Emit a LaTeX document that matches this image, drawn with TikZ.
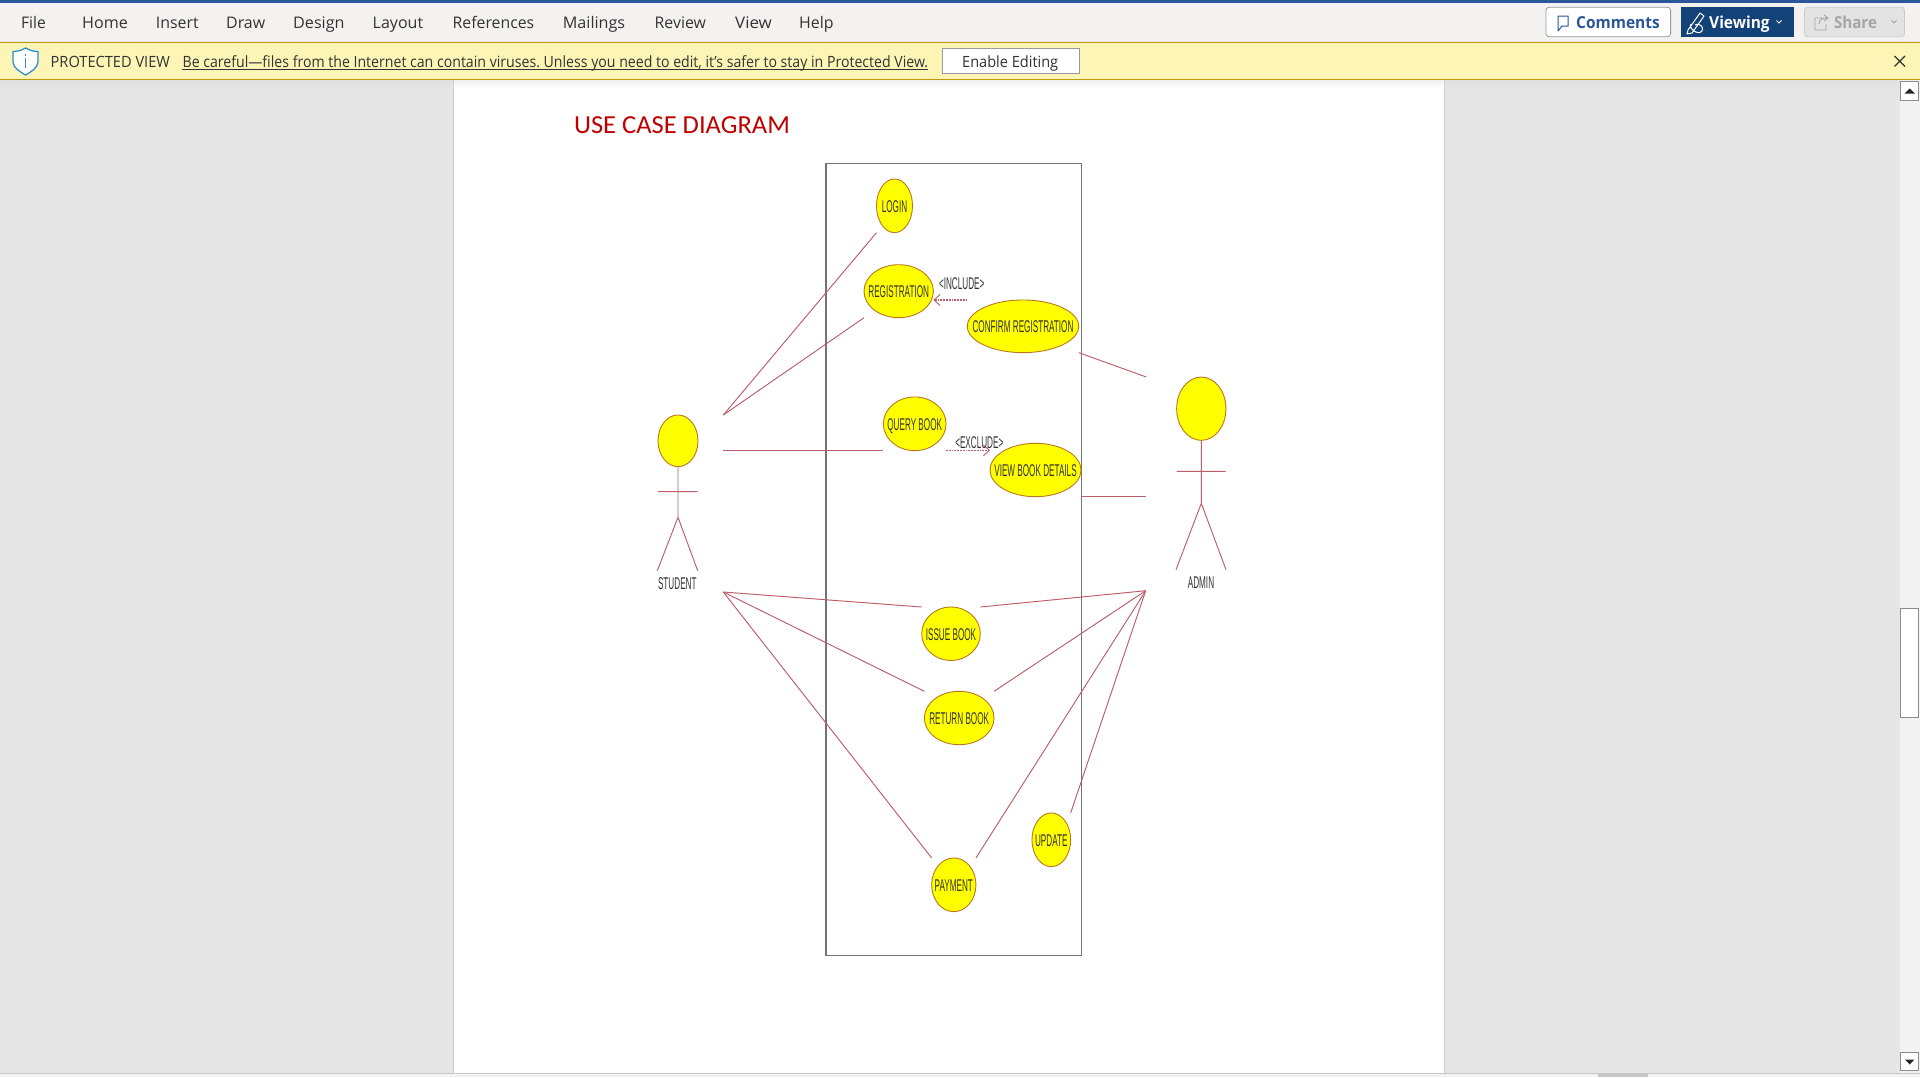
\documentclass[tikz,border=0pt]{standalone}
\usepackage{fontspec}
\usepackage{graphicx}
\setmainfont{Open Sans}
\newfontfamily\arfont{Liberation Sans}
\newfontfamily\calfont{Carlito}
\usetikzlibrary{shapes.geometric,arrows.meta}
\definecolor{ribbon}{HTML}{F3F2F1}
\definecolor{wordblue}{HTML}{2B579A}
\definecolor{viewblue}{HTML}{134279}
\definecolor{warnbg}{HTML}{FCF5B5}
\definecolor{warnline}{HTML}{BE9A0A}
\definecolor{canvasgrey}{HTML}{E6E6E6}
\definecolor{linkred}{HTML}{BC5F6A}
\definecolor{ovalline}{HTML}{B9781E}
\definecolor{inktext}{HTML}{333333}
\definecolor{caseyellow}{HTML}{FFFF00}
\definecolor{titlered}{HTML}{C00000}
\definecolor{shieldblue}{HTML}{2E8FD8}
\definecolor{edgegrey}{HTML}{C8C6C4}
\newcommand{\fit}[2]{\resizebox{#1pt}{\height}{#2}}
\newcommand{\inel}[1]{\makebox[0pt]{\smash{\raisebox{-6.5pt}{\fontsize{17}{17}\arfont\scalebox{.48}[1]{#1}}}}}
\newcommand{\plain}[1]{{\fontsize{17}{17}\arfont\scalebox{.48}[1]{#1}}}
\frenchspacing
\tikzset{
  menu/.style={anchor=base west,inner sep=0pt,text=inktext,font=\fontsize{16}{16}\selectfont},
  usecase/.style={draw=ovalline,fill=caseyellow,line width=.9pt,ellipse,inner sep=0pt,outer sep=0pt,text=inktext},
  link/.style={draw=linkred,line width=.95pt},
  dep/.style={draw=linkred,line width=1.4pt,dash pattern=on 1.8pt off 1pt,-{Straight Barb[length=6pt,width=11pt,line width=.9pt]}},
  caption/.style={inner sep=0pt,text=inktext},
  btn/.style={inner sep=0pt,rounded corners=3pt},
  sbar/.style={fill=white,draw=black!45,line width=1pt},
}
\begin{document}
\begin{tikzpicture}[x=1pt,y=-1pt]
\useasboundingbox (0,0) rectangle (1920,1077);
% window
\fill[canvasgrey] (0,0) rectangle (1920,1077);
\fill[white] (453.5,79) rectangle (1444.5,1073);
\draw[color=black!20,line width=.8pt] (453.5,79) -- (453.5,1073) (1444.5,79) -- (1444.5,1073);
\shade[top color=black!13,bottom color=canvasgrey] (0,79) rectangle (453,88);
\shade[top color=black!13,bottom color=canvasgrey] (1445,79) rectangle (1900,88);
\shade[top color=black!7,bottom color=white] (454,79) rectangle (1444,88);
\fill[ribbon] (0,0) rectangle (1920,41);
\fill[wordblue] (0,0) rectangle (1920,3);
\fill[warnbg] (0,42) rectangle (1920,79.5);
\draw[warnline,line width=1pt] (0,42.5) -- (1920,42.5) (0,79.5) -- (1920,79.5);
% menu
\node[menu] (mFile) at (21,28.3) {\fit{24.6}{File}};
\node[menu] (mHome) at (82,28.3) {\fit{45.7}{Home}};
\node[menu] (mInsert) at (155.7,28.3) {\fit{42.8}{Insert}};
\node[menu] (mDraw) at (226,28.3) {\fit{39}{Draw}};
\node[menu] (mDesign) at (293,28.3) {\fit{51.4}{Design}};
\node[menu] (mLayout) at (372.5,28.3) {\fit{50.5}{Layout}};
\node[menu] (mRefs) at (452.5,28.3) {\fit{81.5}{References}};
\node[menu] (mMail) at (562.6,28.3) {\fit{62.4}{Mailings}};
\node[menu] (mReview) at (654.5,28.3) {\fit{51.2}{Review}};
\node[menu] (mView) at (735,28.3) {\fit{36.7}{View}};
\node[menu] (mHelp) at (799,28.3) {\fit{34.4}{Help}};
% right buttons
\node[btn,draw=black!40,fill=white,line width=.8pt,minimum width=124.6pt,minimum height=29.4pt] (bComments) at (1608.3,22) {};
\node[menu,text=wordblue,font=\fontsize{16.5}{16.5}\selectfont\bfseries] (tComments) at (1576,28) {\fit{83.6}{Comments}};
\draw[wordblue,line width=1pt,line join=round] (1558,16) -- (1568,16) -- (1568,26) -- (1562,26) -- (1558,31) -- (1558,16);
\node[fill=viewblue,inner sep=0pt,minimum width=113pt,minimum height=29.4pt] (bViewing) at (1737.5,22) {};
\node[menu,text=white,font=\fontsize{16.5}{16.5}\selectfont\bfseries] (tViewing) at (1709,28) {\fit{60.5}{Viewing}};
\draw[white,line width=1pt,line join=round] (1688,30) -- (1700,13) -- (1704,16) -- (1692,33) -- (1687,34) -- cycle (1691,24) .. controls (1688,28) and (1698,36) .. (1702,31) .. controls (1705,27) and (1698,22) .. (1695,25);
\draw[white,line width=1pt] (1776.5,20.5) -- (1779,23) -- (1781.5,20.5);
\node[btn,draw=black!20,fill=black!11,line width=.8pt,minimum width=100pt,minimum height=29.4pt] (bShare) at (1854.5,22) {};
\node[menu,text=black!35,font=\fontsize{16.5}{16.5}\selectfont\bfseries] (tShare) at (1833.8,28) {\fit{43}{Share}};
\draw[black!35,line width=.9pt] (1822,18) -- (1815,18) -- (1815,30) -- (1826,30) -- (1826,24) (1819,24) .. controls (1819,19) and (1823,18) .. (1827,18) (1824,15) -- (1828,18) -- (1824,21);
\draw[black!35,line width=.9pt] (1891.5,20.5) -- (1894,23) -- (1896.5,20.5);
% warning bar
\fill[white] (25.6,49) .. controls (21,51.5) and (17,52.5) .. (13.5,52.5) -- (13.5,62) .. controls (13.5,67) and (20,72) .. (25.6,74.5) .. controls (31,72) and (37.5,67) .. (37.5,62) -- (37.5,52.5) .. controls (34,52.5) and (30,51.5) .. (25.6,49) -- cycle;
\draw[shieldblue,line width=1.3pt] (25.6,48) .. controls (21,50.5) and (17,51.5) .. (13,51.5) -- (13,62) .. controls (13,67.5) and (20,72) .. (25.6,75) .. controls (31,72) and (38,67.5) .. (38,62) -- (38,51.5) .. controls (34,51.5) and (30,50.5) .. (25.6,48) -- cycle;
\draw[shieldblue,line width=1.6pt] (25.6,58) -- (25.6,68) (25.6,53.5) -- (25.6,55.5);
\node[menu,font=\fontsize{15.5}{15.5}\selectfont] (pvTag) at (50.5,67) {\fit{119.3}{PROTECTED VIEW}};
\node[menu,font=\fontsize{15.5}{15.5}\selectfont] (pvMsg) at (182.4,67) {\fit{745.6}{Be careful—files from the Internet can contain viruses. Unless you need to edit, it's safer to stay in Protected View.}};
\draw[inktext,line width=.9pt] (182.4,69.2) -- (928,69.2);
\node[draw=black!40,fill=white,line width=.8pt,minimum width=137.6pt,minimum height=25.4pt,inner sep=0pt] (bEnable) at (1010.8,61) {};
\node[menu,font=\fontsize{15.5}{15.5}\selectfont] (tEnable) at (962,67) {\fit{96}{Enable Editing}};
\draw[inktext,line width=1.1pt] (1894.5,56) -- (1905,66.5) (1905,56) -- (1894.5,66.5);
% scrollbar
\fill[black!5] (1900,80) rectangle (1920,1073);
\path[sbar] (1900.8,81.4) rectangle (1918.6,100.4);
\fill[black!85] (1904.5,93.5) -- (1909.7,88.5) -- (1914.9,93.5) -- cycle;
\path[sbar] (1900.8,608.2) rectangle (1918.6,717.6);
\path[sbar] (1900.8,1052.6) rectangle (1918.6,1070.7);
\fill[black!85] (1905,1059.5) -- (1909.7,1064.5) -- (1914.4,1059.5) -- cycle;
% status edge
\fill[ribbon] (0,1073.5) rectangle (1920,1077);
\fill[edgegrey] (0,1073) rectangle (1920,1074);
\fill[edgegrey] (1598,1074) rectangle (1648,1077);
% title
\node[menu,text=titlered,font=\fontsize{26}{26}\calfont] (title) at (573.8,133.3) {\fit{216}{USE CASE DIAGRAM}};
% system boundary
\node[draw=black!55,line width=1.4pt,inner sep=0pt,minimum width=255.7pt,minimum height=792.4pt] (sys) at (953.85,559.5) {};
% use cases
\node[usecase,minimum width=36pt,minimum height=53.7pt] (login) at (894.5,205.8) {\inel{LOGIN}};
\node[usecase,minimum width=69.4pt,minimum height=53pt] (reg) at (898.7,291.2) {\inel{REGISTRATION}};
\node[usecase,minimum width=111.4pt,minimum height=52.7pt] (confirm) at (1023,326.3) {\inel{CONFIRM REGISTRATION}};
\node[usecase,minimum width=62.7pt,minimum height=53.7pt] (query) at (914.7,423.8) {\inel{QUERY BOOK}};
\node[usecase,minimum width=91pt,minimum height=53.4pt] (details) at (1035.5,470) {\inel{VIEW BOOK DETAILS}};
\node[usecase,minimum width=58.6pt,minimum height=53.4pt] (issue) at (951,633.7) {\inel{ISSUE BOOK}};
\node[usecase,minimum width=69.7pt,minimum height=53.4pt] (return) at (959.2,718) {\inel{RETURN BOOK}};
\node[usecase,minimum width=38.7pt,minimum height=53.7pt] (update) at (1051.3,839.8) {\inel{UPDATE}};
\node[usecase,minimum width=44.3pt,minimum height=53.7pt] (payment) at (953.8,884.8) {\inel{PAYMENT}};
% student
\node[usecase,minimum width=40pt,minimum height=51.7pt] (stuHead) at (678,440.8) {};
\coordinate (stuHip) at (678,517.3);
\coordinate (stuArmL) at (658,491.7);
\coordinate (stuArmR) at (697.7,491.7);
\coordinate (stuLegL) at (657.3,570.7);
\coordinate (stuLegR) at (697.7,570.7);
\draw[link] (stuHead.south) -- (stuHip) -- (stuLegL) (stuHip) -- (stuLegR) (stuArmL) -- (stuArmR);
\node[caption] (stuName) at (677.3,583.7) {\plain{STUDENT}};
% admin
\node[usecase,minimum width=49.3pt,minimum height=63.3pt] (admHead) at (1201.3,408.7) {};
\coordinate (admHip) at (1201.3,503.3);
\coordinate (admArmL) at (1176.7,471.3);
\coordinate (admArmR) at (1225.7,471.3);
\coordinate (admLegL) at (1176,569.7);
\coordinate (admLegR) at (1226,569.7);
\draw[link] (admHead.south) -- (admHip) -- (admLegL) (admHip) -- (admLegR) (admArmL) -- (admArmR);
\node[caption] (admName) at (1201,582.3) {\plain{ADMIN}};
% connector ends
\coordinate (stuTop) at (723.3,415);
\coordinate (stuMid) at (723.3,450.3);
\coordinate (stuLow) at (723.3,592);
\coordinate (admTop) at (1146.3,377);
\coordinate (admMid) at (1146.3,496.7);
\coordinate (admLow) at (1145.7,590.7);
% student links
\draw[link] (stuTop) -- (login.west |- login.south);
\draw[link] (stuTop) -- (reg.west |- reg.south);
\draw[link] (stuMid) -- (stuMid -| query.west);
\draw[link] (stuLow) -- (issue.west |- issue.north);
\draw[link] (stuLow) -- (return.west |- return.north);
\draw[link] (stuLow) -- (payment.west |- payment.north);
% admin links
\draw[link] (admTop) -- (confirm.east |- confirm.south);
\draw[link] (admMid) -- (admMid -| details.east);
\draw[link] (admLow) -- (issue.east |- issue.north);
\draw[link] (admLow) -- (return.east |- return.north);
\draw[link] (admLow) -- (payment.east |- payment.north);
\draw[link] (admLow) -- (update.east |- update.north);
% dependencies
\draw[dep] (confirm.west |- confirm.north) -- (reg.east |- confirm.north);
\draw[dep] (query.east |- stuMid) -- (details.west |- stuMid);
\node[caption] (incl) at (961.7,283.3) {\plain{<INCLUDE>}};
\node[caption] (excl) at (979.3,442.3) {\plain{<EXCLUDE>}};
\end{tikzpicture}
\end{document}
